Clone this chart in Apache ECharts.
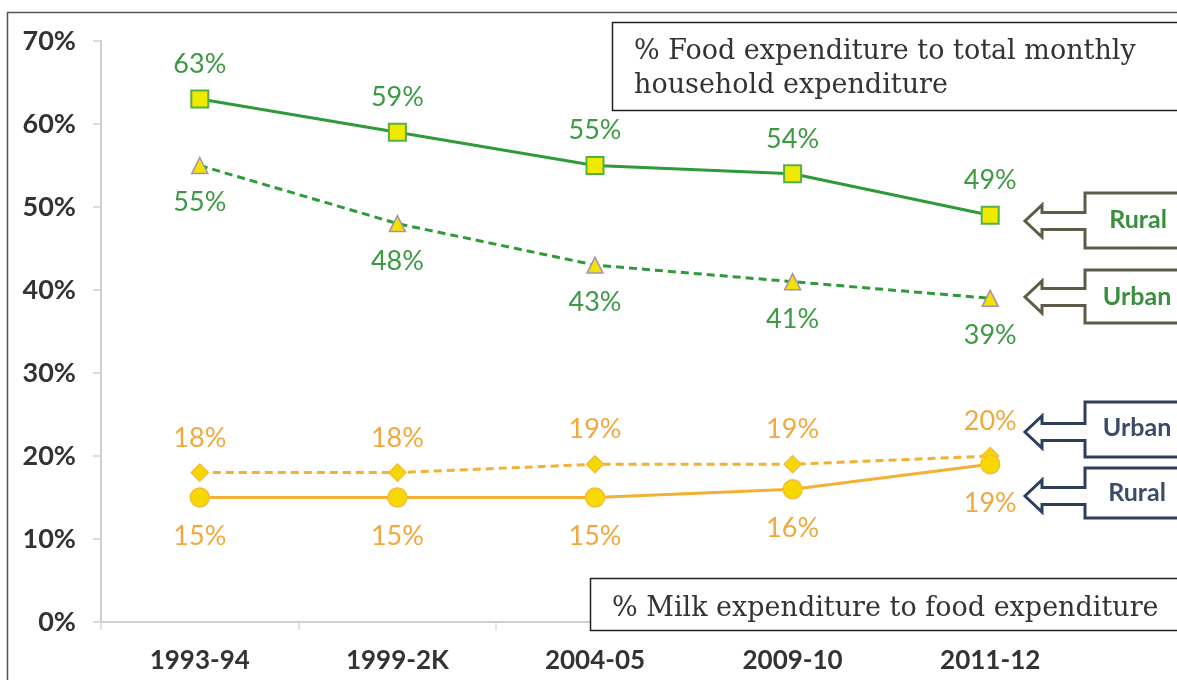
<!DOCTYPE html>
<html>
<head>
<meta charset="utf-8">
<script src="https://cdn.jsdelivr.net/npm/echarts@6/dist/echarts.min.js"></script>
<style>
  html, body { margin: 0; padding: 0; background: #fff; }
  #chart { width: 1177px; height: 680px; }
</style>
</head>
<body>
<div id="chart"></div>
<script>
// Survey periods
const periods = ['1993-94', '1999-2K', '2004-05', '2009-10', '2011-12'];

// Share of food in total monthly household expenditure (%)
const foodRural = [63, 59, 55, 54, 49];
const foodUrban = [55, 48, 43, 41, 39];

// Share of milk in food expenditure (%)
const milkUrban = [18, 18, 19, 19, 20];
const milkRural = [15, 15, 15, 16, 19];

// Y axis range
const yMin = 0, yMax = 70, yStep = 10;

const GREEN = '#2f9a3a';
const GREEN_TXT = '#3c9a44';
const ORANGE = '#f4b034';
const ORANGE_TXT = '#f1a83c';
const LABEL_FONT = 'Lato, "DejaVu Sans", sans-serif';
const SERIF = '27px "DejaVu Serif", serif';

function pctLabel(pos, dist, color) {
  return {
    show: true, position: pos, distance: dist,
    formatter: p => p.value + '%',
    color: color, fontFamily: LABEL_FONT, fontSize: 27, fontWeight: 'normal'
  };
}

// Block-arrow callout pointing left at a series end
function callout(top, bottom, tipY, stroke) {
  const boxL = 1085, headX = 1042, tipX = 1025, shaft = 8.5, head = 16, right = 1190;
  return {
    type: 'polyline', z: 10,
    shape: { points: [
      [right, top], [boxL, top], [boxL, tipY - shaft], [headX, tipY - shaft], [headX, tipY - head],
      [tipX, tipY], [headX, tipY + head], [headX, tipY + shaft], [boxL, tipY + shaft],
      [boxL, bottom], [right, bottom]
    ] },
    style: { stroke: stroke, lineWidth: 3, fill: null, lineJoin: 'miter' }
  };
}
function calloutText(x, y, text, color) {
  return {
    type: 'text', z: 11, x: x, y: y,
    style: { text: text, fill: color, font: 'bold 25px ' + LABEL_FONT, align: 'center', verticalAlign: 'middle' }
  };
}

const chart = echarts.init(document.getElementById('chart'), null, { renderer: 'canvas' });

chart.setOption({
  animation: false,
  backgroundColor: '#fff',
  grid: { left: 101, right: 88, top: 41, bottom: 58 },
  xAxis: {
    type: 'category',
    data: periods,
    boundaryGap: true,
    axisLine: { lineStyle: { color: '#cfcfcf', width: 2 } },
    axisTick: { show: true, length: 8, lineStyle: { color: '#d8d8d8', width: 1.5 } },
    axisLabel: { color: '#333', fontFamily: LABEL_FONT, fontSize: 26, fontWeight: 'bold', margin: 26 }
  },
  yAxis: {
    type: 'value',
    min: yMin, max: yMax, interval: yStep,
    axisLine: { show: true, lineStyle: { color: '#cfcfcf', width: 2 } },
    axisTick: { show: true, length: 8, lineStyle: { color: '#cfcfcf', width: 1.5 } },
    splitLine: { show: false },
    axisLabel: { formatter: '{value}%', color: '#333', fontFamily: LABEL_FONT, fontSize: 27, fontWeight: 'bold', margin: 25 }
  },
  series: [
    {
      name: 'Food Rural', type: 'line', data: foodRural,
      symbol: 'rect', symbolSize: 17,
      lineStyle: { color: GREEN, width: 3 },
      itemStyle: { color: '#f0ea00', borderColor: '#55b046', borderWidth: 2 },
      label: pctLabel('top', 12, GREEN_TXT), z: 3
    },
    {
      name: 'Food Urban', type: 'line', data: foodUrban,
      symbol: 'triangle', symbolSize: 16,
      lineStyle: { color: GREEN, width: 3, type: [8, 5] },
      itemStyle: { color: '#f2e200', borderColor: '#a890b4', borderWidth: 1.5 },
      label: pctLabel('bottom', 15, GREEN_TXT), z: 3
    },
    {
      name: 'Milk Urban', type: 'line', data: milkUrban,
      symbol: 'diamond', symbolSize: 17,
      lineStyle: { color: ORANGE, width: 3, type: [8, 5] },
      itemStyle: { color: '#f5d800', borderColor: '#f3bd3a', borderWidth: 1.5 },
      label: pctLabel('top', 12, ORANGE_TXT), z: 3
    },
    {
      name: 'Milk Rural', type: 'line', data: milkRural,
      symbol: 'circle', symbolSize: 19,
      lineStyle: { color: ORANGE, width: 3 },
      itemStyle: { color: '#f7d800', borderColor: '#f3bd3a', borderWidth: 1.5 },
      label: pctLabel('bottom', 15, ORANGE_TXT), z: 3
    }
  ],
  graphic: [
    // outer frame
    { type: 'polyline', z: 20, shape: { points: [[7.5, 690], [7.5, 12.5], [1190, 12.5]] },
      style: { stroke: '#555', lineWidth: 1.5, fill: null } },
    // upper caption box
    { type: 'rect', z: 12, shape: { x: 612.5, y: 22.5, width: 600, height: 88 },
      style: { fill: '#fff', stroke: '#222', lineWidth: 1.5 } },
    { type: 'text', z: 13, x: 634, y: 52,
      style: { text: '% Food expenditure to total monthly', fill: '#333', font: SERIF, verticalAlign: 'middle' } },
    { type: 'text', z: 13, x: 634, y: 86,
      style: { text: 'household expenditure', fill: '#333', font: SERIF, verticalAlign: 'middle' } },
    // lower caption box (descenders clipped just above its bottom edge)
    { type: 'rect', z: 12, shape: { x: 590.5, y: 578.5, width: 620, height: 52 },
      style: { fill: '#fff', stroke: null } },
    { type: 'text', z: 13, x: 612, y: 609,
      style: { text: '% Milk expenditure to food expenditure', fill: '#333', font: SERIF, verticalAlign: 'middle' } },
    { type: 'rect', z: 14, shape: { x: 590, y: 622, width: 620, height: 18 },
      style: { fill: '#fff', stroke: null } },
    { type: 'rect', z: 15, shape: { x: 590.5, y: 578.5, width: 620, height: 52 },
      style: { fill: null, stroke: '#222', lineWidth: 1.5 } },
    // series callouts
    callout(193, 248, 221, '#5e5b48'),
    calloutText(1138, 220, 'Rural', '#3a8f3e'),
    callout(270, 323, 297, '#5e5b48'),
    calloutText(1137, 297, 'Urban', '#3a8f3e'),
    callout(402, 457, 432, '#2e3f5e'),
    calloutText(1137, 428, 'Urban', '#3a4c6a'),
    callout(468, 518, 496, '#2e3f5e'),
    calloutText(1137, 493, 'Rural', '#3a4c6a')
  ]
});
</script>
</body>
</html>
